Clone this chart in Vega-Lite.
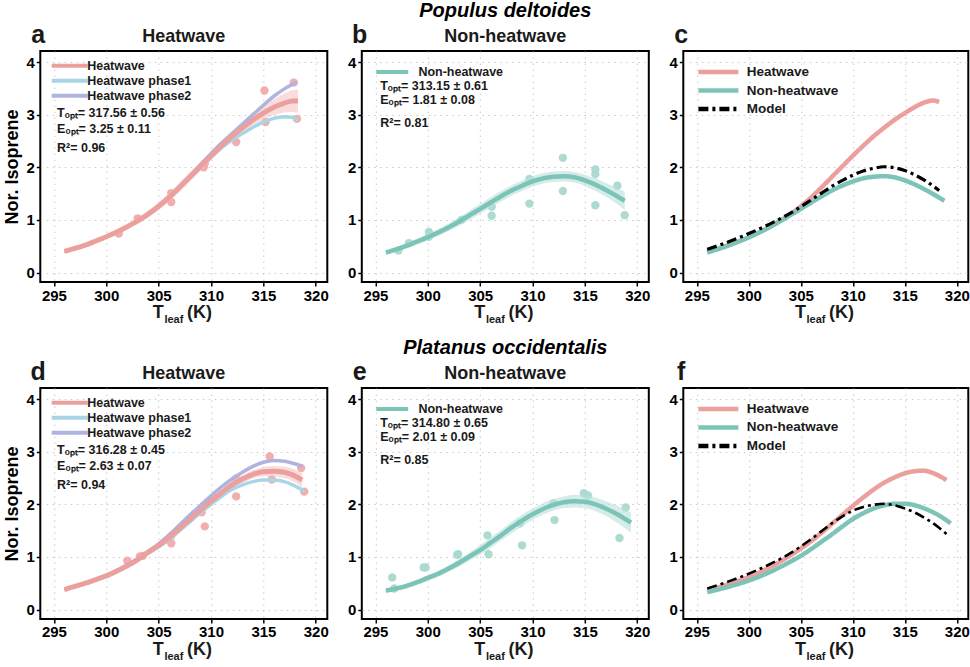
{
  "$schema": "https://vega.github.io/schema/vega-lite/v6.json",
  "padding": {"left": 2.3, "top": -1, "right": 0, "bottom": 0},
  "background": "white",
  "config": {
    "font": "Liberation Sans",
    "view": {"stroke": "#000000", "strokeWidth": 2},
    "axis": {
      "labelFont": "Liberation Sans", "labelFontWeight": "bold", "labelFontSize": 15, "labelColor": "#000000",
      "domain": false, "tickColor": "#000000", "tickSize": 4, "tickWidth": 1.5, "labelPadding": 2,
      "grid": true, "gridColor": "#c9c9c9", "gridDash": [1.5, 4.5], "gridWidth": 1,
      "titleFont": "Liberation Sans", "titleFontWeight": "bold", "titleFontSize": 18, "titleColor": "#000000"
    },
    "axisY": {"titlePadding": 4},
    "text": {"font": "Liberation Sans", "fontWeight": "bold", "color": "#1a1a1a", "baseline": "alphabetic"},
    "legend": {"labelFont": "Liberation Sans", "labelFontWeight": "bold", "labelColor": "#1a1a1a"}
  },
  "datasets": {
    "a_pts": [
      {"T": 301.2, "v": 0.74}, {"T": 303.0, "v": 1.03}, {"T": 306.2, "v": 1.34}, {"T": 306.2, "v": 1.51},
      {"T": 309.3, "v": 2.0}, {"T": 309.4, "v": 2.07}, {"T": 312.4, "v": 2.48}, {"T": 315.1, "v": 3.46},
      {"T": 315.2, "v": 2.86}, {"T": 317.9, "v": 3.61}, {"T": 318.2, "v": 2.92}
    ],
    "a_band": [
      {"T": 296, "lo": 0.37, "hi": 0.43}, {"T": 297, "lo": 0.43, "hi": 0.49}, {"T": 298, "lo": 0.49, "hi": 0.55},
      {"T": 299, "lo": 0.565, "hi": 0.635}, {"T": 300, "lo": 0.64, "hi": 0.72}, {"T": 301, "lo": 0.73, "hi": 0.81},
      {"T": 302, "lo": 0.825, "hi": 0.915}, {"T": 303, "lo": 0.93, "hi": 1.03}, {"T": 304, "lo": 1.05, "hi": 1.17},
      {"T": 305, "lo": 1.19, "hi": 1.33}, {"T": 306, "lo": 1.35, "hi": 1.51}, {"T": 307, "lo": 1.53, "hi": 1.71},
      {"T": 308, "lo": 1.73, "hi": 1.91}, {"T": 309, "lo": 1.93, "hi": 2.11}, {"T": 310, "lo": 2.14, "hi": 2.30},
      {"T": 311, "lo": 2.34, "hi": 2.48}, {"T": 312, "lo": 2.52, "hi": 2.66}, {"T": 313, "lo": 2.67, "hi": 2.83},
      {"T": 314, "lo": 2.80, "hi": 3.00}, {"T": 315, "lo": 2.91, "hi": 3.15}, {"T": 316, "lo": 2.99, "hi": 3.29},
      {"T": 317, "lo": 3.04, "hi": 3.40}, {"T": 317.8, "lo": 3.05, "hi": 3.47}, {"T": 318.3, "lo": 3.04, "hi": 3.48}
    ],
    "a_lines": [
      {"s": "Heatwave phase1", "T": 296, "v": 0.40}, {"s": "Heatwave phase1", "T": 298, "v": 0.52}, {"s": "Heatwave phase1", "T": 300, "v": 0.68},
      {"s": "Heatwave phase1", "T": 302, "v": 0.87}, {"s": "Heatwave phase1", "T": 304, "v": 1.10}, {"s": "Heatwave phase1", "T": 306, "v": 1.42},
      {"s": "Heatwave phase1", "T": 308, "v": 1.80}, {"s": "Heatwave phase1", "T": 310, "v": 2.19}, {"s": "Heatwave phase1", "T": 311, "v": 2.37},
      {"s": "Heatwave phase1", "T": 312, "v": 2.52}, {"s": "Heatwave phase1", "T": 313, "v": 2.64}, {"s": "Heatwave phase1", "T": 314, "v": 2.76},
      {"s": "Heatwave phase1", "T": 315, "v": 2.86}, {"s": "Heatwave phase1", "T": 316, "v": 2.93}, {"s": "Heatwave phase1", "T": 317, "v": 2.96},
      {"s": "Heatwave phase1", "T": 317.7, "v": 2.95}, {"s": "Heatwave phase1", "T": 318.3, "v": 2.90},
      {"s": "Heatwave phase2", "T": 296, "v": 0.40}, {"s": "Heatwave phase2", "T": 298, "v": 0.52}, {"s": "Heatwave phase2", "T": 300, "v": 0.68},
      {"s": "Heatwave phase2", "T": 302, "v": 0.87}, {"s": "Heatwave phase2", "T": 304, "v": 1.11}, {"s": "Heatwave phase2", "T": 306, "v": 1.44},
      {"s": "Heatwave phase2", "T": 308, "v": 1.84}, {"s": "Heatwave phase2", "T": 310, "v": 2.26}, {"s": "Heatwave phase2", "T": 311, "v": 2.46},
      {"s": "Heatwave phase2", "T": 312, "v": 2.64}, {"s": "Heatwave phase2", "T": 313, "v": 2.82}, {"s": "Heatwave phase2", "T": 314, "v": 3.00},
      {"s": "Heatwave phase2", "T": 315, "v": 3.18}, {"s": "Heatwave phase2", "T": 316, "v": 3.35}, {"s": "Heatwave phase2", "T": 317, "v": 3.49},
      {"s": "Heatwave phase2", "T": 317.6, "v": 3.56}, {"s": "Heatwave phase2", "T": 318.2, "v": 3.62},
      {"s": "Heatwave", "T": 296, "v": 0.40}, {"s": "Heatwave", "T": 297, "v": 0.46}, {"s": "Heatwave", "T": 298, "v": 0.52},
      {"s": "Heatwave", "T": 299, "v": 0.60}, {"s": "Heatwave", "T": 300, "v": 0.68}, {"s": "Heatwave", "T": 301, "v": 0.77},
      {"s": "Heatwave", "T": 302, "v": 0.87}, {"s": "Heatwave", "T": 303, "v": 0.98}, {"s": "Heatwave", "T": 304, "v": 1.11},
      {"s": "Heatwave", "T": 305, "v": 1.26}, {"s": "Heatwave", "T": 306, "v": 1.43}, {"s": "Heatwave", "T": 307, "v": 1.62},
      {"s": "Heatwave", "T": 308, "v": 1.82}, {"s": "Heatwave", "T": 309, "v": 2.02}, {"s": "Heatwave", "T": 310, "v": 2.22},
      {"s": "Heatwave", "T": 311, "v": 2.41}, {"s": "Heatwave", "T": 312, "v": 2.59}, {"s": "Heatwave", "T": 313, "v": 2.75},
      {"s": "Heatwave", "T": 314, "v": 2.90}, {"s": "Heatwave", "T": 315, "v": 3.03}, {"s": "Heatwave", "T": 316, "v": 3.14},
      {"s": "Heatwave", "T": 317, "v": 3.22}, {"s": "Heatwave", "T": 317.8, "v": 3.26}, {"s": "Heatwave", "T": 318.3, "v": 3.26}
    ],
    "b_pts": [
      {"T": 297.2, "v": 0.42}, {"T": 298.2, "v": 0.56}, {"T": 300.1, "v": 0.77}, {"T": 300.1, "v": 0.68},
      {"T": 303.2, "v": 1.0}, {"T": 306.1, "v": 1.25}, {"T": 306.1, "v": 1.08}, {"T": 309.7, "v": 1.78},
      {"T": 309.7, "v": 1.31}, {"T": 312.9, "v": 2.18}, {"T": 312.9, "v": 1.55}, {"T": 316.0, "v": 1.96},
      {"T": 316.0, "v": 1.87}, {"T": 316.0, "v": 1.28}, {"T": 318.1, "v": 1.65}, {"T": 318.8, "v": 1.09}
    ],
    "b_band": [
      {"T": 296, "lo": 0.34, "hi": 0.42}, {"T": 297, "lo": 0.395, "hi": 0.485}, {"T": 298, "lo": 0.46, "hi": 0.56},
      {"T": 299, "lo": 0.535, "hi": 0.645}, {"T": 300, "lo": 0.61, "hi": 0.73}, {"T": 301, "lo": 0.695, "hi": 0.825},
      {"T": 302, "lo": 0.79, "hi": 0.93}, {"T": 303, "lo": 0.89, "hi": 1.05}, {"T": 304, "lo": 1.00, "hi": 1.18},
      {"T": 305, "lo": 1.115, "hi": 1.305}, {"T": 306, "lo": 1.23, "hi": 1.43}, {"T": 307, "lo": 1.35, "hi": 1.55},
      {"T": 308, "lo": 1.46, "hi": 1.66}, {"T": 309, "lo": 1.55, "hi": 1.75}, {"T": 310, "lo": 1.63, "hi": 1.83},
      {"T": 311, "lo": 1.69, "hi": 1.89}, {"T": 312, "lo": 1.72, "hi": 1.92}, {"T": 313, "lo": 1.73, "hi": 1.93},
      {"T": 314, "lo": 1.71, "hi": 1.91}, {"T": 315, "lo": 1.64, "hi": 1.86}, {"T": 316, "lo": 1.55, "hi": 1.79},
      {"T": 317, "lo": 1.44, "hi": 1.70}, {"T": 318, "lo": 1.31, "hi": 1.61}, {"T": 318.8, "lo": 1.19, "hi": 1.53}
    ],
    "b_lines": [
      {"s": "Non-heatwave", "T": 296, "v": 0.38}, {"s": "Non-heatwave", "T": 297, "v": 0.44}, {"s": "Non-heatwave", "T": 298, "v": 0.51},
      {"s": "Non-heatwave", "T": 299, "v": 0.59}, {"s": "Non-heatwave", "T": 300, "v": 0.67}, {"s": "Non-heatwave", "T": 301, "v": 0.76},
      {"s": "Non-heatwave", "T": 302, "v": 0.86}, {"s": "Non-heatwave", "T": 303, "v": 0.97}, {"s": "Non-heatwave", "T": 304, "v": 1.09},
      {"s": "Non-heatwave", "T": 305, "v": 1.21}, {"s": "Non-heatwave", "T": 306, "v": 1.33}, {"s": "Non-heatwave", "T": 307, "v": 1.45},
      {"s": "Non-heatwave", "T": 308, "v": 1.56}, {"s": "Non-heatwave", "T": 309, "v": 1.65}, {"s": "Non-heatwave", "T": 310, "v": 1.73},
      {"s": "Non-heatwave", "T": 311, "v": 1.79}, {"s": "Non-heatwave", "T": 312, "v": 1.82}, {"s": "Non-heatwave", "T": 313, "v": 1.83},
      {"s": "Non-heatwave", "T": 314, "v": 1.81}, {"s": "Non-heatwave", "T": 315, "v": 1.75}, {"s": "Non-heatwave", "T": 316, "v": 1.67},
      {"s": "Non-heatwave", "T": 317, "v": 1.57}, {"s": "Non-heatwave", "T": 318, "v": 1.46}, {"s": "Non-heatwave", "T": 318.8, "v": 1.36}
    ],
    "c_lines": [
      {"s": "Heatwave", "T": 296, "v": 0.39}, {"s": "Heatwave", "T": 298, "v": 0.52}, {"s": "Heatwave", "T": 300, "v": 0.67},
      {"s": "Heatwave", "T": 302, "v": 0.87}, {"s": "Heatwave", "T": 304, "v": 1.11}, {"s": "Heatwave", "T": 305, "v": 1.26},
      {"s": "Heatwave", "T": 306, "v": 1.43}, {"s": "Heatwave", "T": 307, "v": 1.62}, {"s": "Heatwave", "T": 308, "v": 1.82},
      {"s": "Heatwave", "T": 309, "v": 2.02}, {"s": "Heatwave", "T": 310, "v": 2.22}, {"s": "Heatwave", "T": 311, "v": 2.41},
      {"s": "Heatwave", "T": 312, "v": 2.59}, {"s": "Heatwave", "T": 313, "v": 2.75}, {"s": "Heatwave", "T": 314, "v": 2.90},
      {"s": "Heatwave", "T": 315, "v": 3.03}, {"s": "Heatwave", "T": 316, "v": 3.15}, {"s": "Heatwave", "T": 317, "v": 3.24},
      {"s": "Heatwave", "T": 317.7, "v": 3.27}, {"s": "Heatwave", "T": 318.3, "v": 3.24},
      {"s": "Non-heatwave", "T": 296, "v": 0.38}, {"s": "Non-heatwave", "T": 298, "v": 0.51}, {"s": "Non-heatwave", "T": 300, "v": 0.67},
      {"s": "Non-heatwave", "T": 302, "v": 0.86}, {"s": "Non-heatwave", "T": 304, "v": 1.09}, {"s": "Non-heatwave", "T": 306, "v": 1.33},
      {"s": "Non-heatwave", "T": 308, "v": 1.56}, {"s": "Non-heatwave", "T": 310, "v": 1.73}, {"s": "Non-heatwave", "T": 311, "v": 1.79},
      {"s": "Non-heatwave", "T": 312, "v": 1.82}, {"s": "Non-heatwave", "T": 313, "v": 1.83}, {"s": "Non-heatwave", "T": 314, "v": 1.81},
      {"s": "Non-heatwave", "T": 315, "v": 1.75}, {"s": "Non-heatwave", "T": 316, "v": 1.67}, {"s": "Non-heatwave", "T": 317, "v": 1.57},
      {"s": "Non-heatwave", "T": 318, "v": 1.46}, {"s": "Non-heatwave", "T": 318.8, "v": 1.36},
      {"s": "Model", "T": 296, "v": 0.44}, {"s": "Model", "T": 298, "v": 0.58}, {"s": "Model", "T": 300, "v": 0.74},
      {"s": "Model", "T": 302, "v": 0.92}, {"s": "Model", "T": 304, "v": 1.13}, {"s": "Model", "T": 305, "v": 1.25},
      {"s": "Model", "T": 306, "v": 1.38}, {"s": "Model", "T": 307, "v": 1.51}, {"s": "Model", "T": 308, "v": 1.64},
      {"s": "Model", "T": 309, "v": 1.75}, {"s": "Model", "T": 310, "v": 1.85}, {"s": "Model", "T": 311, "v": 1.93},
      {"s": "Model", "T": 312, "v": 1.98}, {"s": "Model", "T": 313, "v": 2.01}, {"s": "Model", "T": 314, "v": 1.99},
      {"s": "Model", "T": 315, "v": 1.94}, {"s": "Model", "T": 316, "v": 1.85}, {"s": "Model", "T": 317, "v": 1.74},
      {"s": "Model", "T": 318.3, "v": 1.56}
    ],
    "d_pts": [
      {"T": 302.0, "v": 0.93}, {"T": 303.2, "v": 1.01}, {"T": 303.5, "v": 1.02}, {"T": 306.2, "v": 1.40},
      {"T": 306.2, "v": 1.26}, {"T": 309.4, "v": 1.58}, {"T": 309.1, "v": 1.85}, {"T": 312.4, "v": 2.49},
      {"T": 312.4, "v": 2.15}, {"T": 315.6, "v": 2.91}, {"T": 315.8, "v": 2.47}, {"T": 318.6, "v": 2.69},
      {"T": 318.9, "v": 2.24}
    ],
    "d_band": [
      {"T": 296, "lo": 0.35, "hi": 0.41}, {"T": 297, "lo": 0.41, "hi": 0.47}, {"T": 298, "lo": 0.47, "hi": 0.53},
      {"T": 299, "lo": 0.535, "hi": 0.605}, {"T": 300, "lo": 0.60, "hi": 0.68}, {"T": 301, "lo": 0.69, "hi": 0.77},
      {"T": 302, "lo": 0.785, "hi": 0.875}, {"T": 303, "lo": 0.90, "hi": 1.00}, {"T": 304, "lo": 1.04, "hi": 1.14},
      {"T": 305, "lo": 1.165, "hi": 1.275}, {"T": 306, "lo": 1.31, "hi": 1.43}, {"T": 307, "lo": 1.48, "hi": 1.60},
      {"T": 308, "lo": 1.66, "hi": 1.78}, {"T": 309, "lo": 1.83, "hi": 1.95}, {"T": 310, "lo": 2.00, "hi": 2.12},
      {"T": 311, "lo": 2.16, "hi": 2.28}, {"T": 312, "lo": 2.305, "hi": 2.435}, {"T": 313, "lo": 2.41, "hi": 2.55},
      {"T": 314, "lo": 2.49, "hi": 2.65}, {"T": 315, "lo": 2.53, "hi": 2.71}, {"T": 316, "lo": 2.53, "hi": 2.73},
      {"T": 317, "lo": 2.50, "hi": 2.72}, {"T": 318, "lo": 2.42, "hi": 2.66}, {"T": 318.7, "lo": 2.33, "hi": 2.59}
    ],
    "d_lines": [
      {"s": "Heatwave phase1", "T": 296, "v": 0.38}, {"s": "Heatwave phase1", "T": 298, "v": 0.50}, {"s": "Heatwave phase1", "T": 300, "v": 0.64},
      {"s": "Heatwave phase1", "T": 302, "v": 0.83}, {"s": "Heatwave phase1", "T": 304, "v": 1.07}, {"s": "Heatwave phase1", "T": 306, "v": 1.33},
      {"s": "Heatwave phase1", "T": 307, "v": 1.50}, {"s": "Heatwave phase1", "T": 308, "v": 1.67}, {"s": "Heatwave phase1", "T": 309, "v": 1.84},
      {"s": "Heatwave phase1", "T": 310, "v": 2.00}, {"s": "Heatwave phase1", "T": 311, "v": 2.15}, {"s": "Heatwave phase1", "T": 312, "v": 2.28},
      {"s": "Heatwave phase1", "T": 313, "v": 2.37}, {"s": "Heatwave phase1", "T": 314, "v": 2.43}, {"s": "Heatwave phase1", "T": 315, "v": 2.46},
      {"s": "Heatwave phase1", "T": 316, "v": 2.46}, {"s": "Heatwave phase1", "T": 317, "v": 2.43}, {"s": "Heatwave phase1", "T": 318, "v": 2.35},
      {"s": "Heatwave phase1", "T": 318.9, "v": 2.25},
      {"s": "Heatwave phase2", "T": 296, "v": 0.38}, {"s": "Heatwave phase2", "T": 298, "v": 0.50}, {"s": "Heatwave phase2", "T": 300, "v": 0.65},
      {"s": "Heatwave phase2", "T": 302, "v": 0.85}, {"s": "Heatwave phase2", "T": 304, "v": 1.10}, {"s": "Heatwave phase2", "T": 305, "v": 1.25},
      {"s": "Heatwave phase2", "T": 306, "v": 1.42}, {"s": "Heatwave phase2", "T": 307, "v": 1.61}, {"s": "Heatwave phase2", "T": 308, "v": 1.80},
      {"s": "Heatwave phase2", "T": 309, "v": 1.98}, {"s": "Heatwave phase2", "T": 310, "v": 2.16}, {"s": "Heatwave phase2", "T": 311, "v": 2.33},
      {"s": "Heatwave phase2", "T": 312, "v": 2.48}, {"s": "Heatwave phase2", "T": 313, "v": 2.61}, {"s": "Heatwave phase2", "T": 314, "v": 2.72},
      {"s": "Heatwave phase2", "T": 315, "v": 2.80}, {"s": "Heatwave phase2", "T": 316, "v": 2.83}, {"s": "Heatwave phase2", "T": 317, "v": 2.82},
      {"s": "Heatwave phase2", "T": 318, "v": 2.77}, {"s": "Heatwave phase2", "T": 318.7, "v": 2.72},
      {"s": "Heatwave", "T": 296, "v": 0.38}, {"s": "Heatwave", "T": 297, "v": 0.44}, {"s": "Heatwave", "T": 298, "v": 0.50},
      {"s": "Heatwave", "T": 299, "v": 0.57}, {"s": "Heatwave", "T": 300, "v": 0.64}, {"s": "Heatwave", "T": 301, "v": 0.73},
      {"s": "Heatwave", "T": 302, "v": 0.83}, {"s": "Heatwave", "T": 303, "v": 0.95}, {"s": "Heatwave", "T": 304, "v": 1.09},
      {"s": "Heatwave", "T": 305, "v": 1.22}, {"s": "Heatwave", "T": 306, "v": 1.37}, {"s": "Heatwave", "T": 307, "v": 1.54},
      {"s": "Heatwave", "T": 308, "v": 1.72}, {"s": "Heatwave", "T": 309, "v": 1.89}, {"s": "Heatwave", "T": 310, "v": 2.06},
      {"s": "Heatwave", "T": 311, "v": 2.22}, {"s": "Heatwave", "T": 312, "v": 2.37}, {"s": "Heatwave", "T": 313, "v": 2.48},
      {"s": "Heatwave", "T": 314, "v": 2.57}, {"s": "Heatwave", "T": 315, "v": 2.62}, {"s": "Heatwave", "T": 316, "v": 2.63},
      {"s": "Heatwave", "T": 317, "v": 2.61}, {"s": "Heatwave", "T": 318, "v": 2.54}, {"s": "Heatwave", "T": 318.7, "v": 2.46}
    ],
    "e_pts": [
      {"T": 296.6, "v": 0.61}, {"T": 296.8, "v": 0.40}, {"T": 299.6, "v": 0.80}, {"T": 299.8, "v": 0.80},
      {"T": 302.8, "v": 1.04}, {"T": 302.9, "v": 1.05}, {"T": 305.7, "v": 1.41}, {"T": 305.8, "v": 1.05},
      {"T": 308.8, "v": 1.64}, {"T": 309.0, "v": 1.22}, {"T": 312.0, "v": 2.02}, {"T": 312.1, "v": 1.70},
      {"T": 314.9, "v": 2.21}, {"T": 315.3, "v": 2.17}, {"T": 318.3, "v": 1.36}, {"T": 318.9, "v": 1.94}
    ],
    "e_band": [
      {"T": 296, "lo": 0.32, "hi": 0.40}, {"T": 297, "lo": 0.36, "hi": 0.44}, {"T": 298, "lo": 0.405, "hi": 0.495},
      {"T": 299, "lo": 0.47, "hi": 0.57}, {"T": 300, "lo": 0.55, "hi": 0.65}, {"T": 301, "lo": 0.625, "hi": 0.735},
      {"T": 302, "lo": 0.72, "hi": 0.84}, {"T": 303, "lo": 0.82, "hi": 0.96}, {"T": 304, "lo": 0.93, "hi": 1.09},
      {"T": 305, "lo": 1.04, "hi": 1.22}, {"T": 306, "lo": 1.17, "hi": 1.37}, {"T": 307, "lo": 1.31, "hi": 1.51},
      {"T": 308, "lo": 1.45, "hi": 1.67}, {"T": 309, "lo": 1.58, "hi": 1.80}, {"T": 310, "lo": 1.70, "hi": 1.92},
      {"T": 311, "lo": 1.80, "hi": 2.02}, {"T": 312, "lo": 1.88, "hi": 2.10}, {"T": 313, "lo": 1.93, "hi": 2.15},
      {"T": 314, "lo": 1.94, "hi": 2.18}, {"T": 315, "lo": 1.93, "hi": 2.17}, {"T": 316, "lo": 1.87, "hi": 2.13},
      {"T": 317, "lo": 1.78, "hi": 2.06}, {"T": 318, "lo": 1.66, "hi": 1.98}, {"T": 319.4, "lo": 1.46, "hi": 1.84}
    ],
    "e_lines": [
      {"s": "Non-heatwave", "T": 296, "v": 0.36}, {"s": "Non-heatwave", "T": 297, "v": 0.40}, {"s": "Non-heatwave", "T": 298, "v": 0.45},
      {"s": "Non-heatwave", "T": 299, "v": 0.52}, {"s": "Non-heatwave", "T": 300, "v": 0.60}, {"s": "Non-heatwave", "T": 301, "v": 0.68},
      {"s": "Non-heatwave", "T": 302, "v": 0.78}, {"s": "Non-heatwave", "T": 303, "v": 0.89}, {"s": "Non-heatwave", "T": 304, "v": 1.01},
      {"s": "Non-heatwave", "T": 305, "v": 1.13}, {"s": "Non-heatwave", "T": 306, "v": 1.27}, {"s": "Non-heatwave", "T": 307, "v": 1.41},
      {"s": "Non-heatwave", "T": 308, "v": 1.56}, {"s": "Non-heatwave", "T": 309, "v": 1.69}, {"s": "Non-heatwave", "T": 310, "v": 1.81},
      {"s": "Non-heatwave", "T": 311, "v": 1.91}, {"s": "Non-heatwave", "T": 312, "v": 1.99}, {"s": "Non-heatwave", "T": 313, "v": 2.04},
      {"s": "Non-heatwave", "T": 314, "v": 2.06}, {"s": "Non-heatwave", "T": 315, "v": 2.05}, {"s": "Non-heatwave", "T": 316, "v": 2.00},
      {"s": "Non-heatwave", "T": 317, "v": 1.92}, {"s": "Non-heatwave", "T": 318, "v": 1.82}, {"s": "Non-heatwave", "T": 319.4, "v": 1.65}
    ],
    "f_lines": [
      {"s": "Heatwave", "T": 296, "v": 0.36}, {"s": "Heatwave", "T": 298, "v": 0.48}, {"s": "Heatwave", "T": 300, "v": 0.62},
      {"s": "Heatwave", "T": 302, "v": 0.80}, {"s": "Heatwave", "T": 304, "v": 1.03}, {"s": "Heatwave", "T": 305, "v": 1.16},
      {"s": "Heatwave", "T": 306, "v": 1.30}, {"s": "Heatwave", "T": 307, "v": 1.46}, {"s": "Heatwave", "T": 308, "v": 1.63},
      {"s": "Heatwave", "T": 309, "v": 1.80}, {"s": "Heatwave", "T": 310, "v": 1.97}, {"s": "Heatwave", "T": 311, "v": 2.13},
      {"s": "Heatwave", "T": 312, "v": 2.28}, {"s": "Heatwave", "T": 313, "v": 2.41}, {"s": "Heatwave", "T": 314, "v": 2.51},
      {"s": "Heatwave", "T": 315, "v": 2.59}, {"s": "Heatwave", "T": 316, "v": 2.63}, {"s": "Heatwave", "T": 316.7, "v": 2.64},
      {"s": "Heatwave", "T": 317.5, "v": 2.61}, {"s": "Heatwave", "T": 318.3, "v": 2.54}, {"s": "Heatwave", "T": 319, "v": 2.46},
      {"s": "Non-heatwave", "T": 296, "v": 0.33}, {"s": "Non-heatwave", "T": 298, "v": 0.43}, {"s": "Non-heatwave", "T": 300, "v": 0.55},
      {"s": "Non-heatwave", "T": 302, "v": 0.71}, {"s": "Non-heatwave", "T": 304, "v": 0.91}, {"s": "Non-heatwave", "T": 305, "v": 1.02},
      {"s": "Non-heatwave", "T": 306, "v": 1.15}, {"s": "Non-heatwave", "T": 307, "v": 1.29}, {"s": "Non-heatwave", "T": 308, "v": 1.43},
      {"s": "Non-heatwave", "T": 309, "v": 1.58}, {"s": "Non-heatwave", "T": 310, "v": 1.72}, {"s": "Non-heatwave", "T": 311, "v": 1.83},
      {"s": "Non-heatwave", "T": 312, "v": 1.92}, {"s": "Non-heatwave", "T": 313, "v": 1.98}, {"s": "Non-heatwave", "T": 314, "v": 2.01},
      {"s": "Non-heatwave", "T": 315, "v": 2.01}, {"s": "Non-heatwave", "T": 316, "v": 1.98}, {"s": "Non-heatwave", "T": 317, "v": 1.91},
      {"s": "Non-heatwave", "T": 318, "v": 1.82}, {"s": "Non-heatwave", "T": 319.4, "v": 1.64},
      {"s": "Model", "T": 296, "v": 0.40}, {"s": "Model", "T": 298, "v": 0.53}, {"s": "Model", "T": 300, "v": 0.68},
      {"s": "Model", "T": 302, "v": 0.86}, {"s": "Model", "T": 304, "v": 1.07}, {"s": "Model", "T": 305, "v": 1.20},
      {"s": "Model", "T": 306, "v": 1.34}, {"s": "Model", "T": 307, "v": 1.49}, {"s": "Model", "T": 308, "v": 1.64},
      {"s": "Model", "T": 309, "v": 1.77}, {"s": "Model", "T": 310, "v": 1.88}, {"s": "Model", "T": 311, "v": 1.95},
      {"s": "Model", "T": 312, "v": 1.99}, {"s": "Model", "T": 313, "v": 2.01}, {"s": "Model", "T": 314, "v": 1.98},
      {"s": "Model", "T": 315, "v": 1.92}, {"s": "Model", "T": 316, "v": 1.84}, {"s": "Model", "T": 317, "v": 1.73},
      {"s": "Model", "T": 318, "v": 1.60}, {"s": "Model", "T": 319.2, "v": 1.40}
    ]
  },
  "spacing": 9,
  "resolve": {"scale": {"color": "independent", "strokeDash": "independent"}},
  "vconcat": [
    {
      "spacing": 16.5,
      "resolve": {"scale": {"color": "independent", "strokeDash": "independent"}},
      "hconcat": [
        {
          "width": 287, "height": 231,
          "layer": [
            {"data": {"name": "a_pts"}, "mark": {"type": "circle", "size": 70, "opacity": 0.95, "color": "#F0AAA8"},
             "encoding": {
               "x": {"field": "T", "type": "quantitative", "title": null, "scale": {"domain": [293.7, 321.1], "nice": false, "zero": false}, "axis": {"values": [295, 300, 305, 310, 315, 320]}},
               "y": {"field": "v", "type": "quantitative", "title": "Nor. Isoprene", "scale": {"domain": [-0.18, 4.21], "nice": false, "zero": false}, "axis": {"values": [0, 1, 2, 3, 4]}}}},
            {"data": {"name": "a_band"}, "mark": {"type": "area", "color": "#F5C6C5", "opacity": 0.6, "interpolate": "monotone"},
             "encoding": {"x": {"field": "T", "type": "quantitative", "title": null}, "y": {"field": "lo", "type": "quantitative", "title": "Nor. Isoprene"}, "y2": {"field": "hi"}}},
            {"data": {"name": "a_lines"}, "transform": [{"filter": "datum.s !== 'Heatwave'"}], "mark": {"type": "line", "strokeWidth": 3.5, "interpolate": "monotone"},
             "encoding": {"x": {"field": "T", "type": "quantitative", "title": null}, "y": {"field": "v", "type": "quantitative", "title": "Nor. Isoprene"},
               "color": {"field": "s", "type": "nominal", "scale": {"domain": ["Heatwave", "Heatwave phase1", "Heatwave phase2"], "range": ["#EBA09E", "#A9D6E6", "#AEB3DF"]},
                 "legend": {"title": null, "orient": "none", "legendX": 0, "legendY": 8.2, "padding": 0, "symbolType": "M-4,0H4", "symbolSize": 81, "symbolStrokeWidth": 4, "symbolOffset": 22.9, "labelOffset": 11, "labelFontSize": 12.5, "rowPadding": -5}}}},
            {"data": {"name": "a_lines"}, "transform": [{"filter": "datum.s === 'Heatwave'"}], "mark": {"type": "line", "strokeWidth": 5, "interpolate": "monotone"},
             "encoding": {"x": {"field": "T", "type": "quantitative", "title": null}, "y": {"field": "v", "type": "quantitative", "title": "Nor. Isoprene"}, "color": {"field": "s", "type": "nominal"}}},
            {"data": {"values": [{"t": "a"}]}, "mark": {"type": "text", "fontSize": 25, "align": "center"}, "encoding": {"text": {"field": "t"}, "x": {"datum": 293.5}, "y": {"datum": 4.36}}},
            {"data": {"values": [{"t": "Heatwave"}]}, "mark": {"type": "text", "fontSize": 18, "align": "center"}, "encoding": {"text": {"field": "t"}, "x": {"datum": 307.4}, "y": {"datum": 4.39}}},
            {"data": {"values": [{"t": "Tₒₚₜ= 317.56 ± 0.56"}]}, "mark": {"type": "text", "fontSize": 12.5, "align": "left"}, "encoding": {"text": {"field": "t"}, "x": {"datum": 295.3}, "y": {"datum": 2.955}}},
            {"data": {"values": [{"t": "Eₒₚₜ= 3.25 ± 0.11"}]}, "mark": {"type": "text", "fontSize": 12.5, "align": "left"}, "encoding": {"text": {"field": "t"}, "x": {"datum": 295.3}, "y": {"datum": 2.65}}},
            {"data": {"values": [{"t": "R²= 0.96"}]}, "mark": {"type": "text", "fontSize": 12.5, "align": "left"}, "encoding": {"text": {"field": "t"}, "x": {"datum": 295.3}, "y": {"datum": 2.29}}},
            {"data": {"values": [{"t": "T"}]}, "mark": {"type": "text", "fontSize": 18, "align": "right"}, "encoding": {"text": {"field": "t"}, "x": {"datum": 305.49}, "y": {"datum": -0.865}}},
            {"data": {"values": [{"t": "leaf"}]}, "mark": {"type": "text", "fontSize": 11, "align": "left"}, "encoding": {"text": {"field": "t"}, "x": {"datum": 305.55}, "y": {"datum": -0.96}}},
            {"data": {"values": [{"t": "(K)"}]}, "mark": {"type": "text", "fontSize": 18, "align": "left"}, "encoding": {"text": {"field": "t"}, "x": {"datum": 307.71}, "y": {"datum": -0.865}}}
          ]
        },
        {
          "width": 287, "height": 231,
          "layer": [
            {"data": {"name": "b_pts"}, "mark": {"type": "circle", "size": 70, "opacity": 0.95, "color": "#A9D9CF"},
             "encoding": {
               "x": {"field": "T", "type": "quantitative", "title": null, "scale": {"domain": [293.7, 321.1], "nice": false, "zero": false}, "axis": {"values": [295, 300, 305, 310, 315, 320]}},
               "y": {"field": "v", "type": "quantitative", "title": null, "scale": {"domain": [-0.18, 4.21], "nice": false, "zero": false}, "axis": {"values": [0, 1, 2, 3, 4]}}}},
            {"data": {"name": "b_band"}, "mark": {"type": "area", "color": "#B9E0D8", "opacity": 0.6, "interpolate": "monotone"},
             "encoding": {"x": {"field": "T", "type": "quantitative", "title": null}, "y": {"field": "lo", "type": "quantitative", "title": null}, "y2": {"field": "hi"}}},
            {"data": {"name": "b_lines"}, "mark": {"type": "line", "strokeWidth": 4.5, "interpolate": "monotone"},
             "encoding": {"x": {"field": "T", "type": "quantitative", "title": null}, "y": {"field": "v", "type": "quantitative", "title": null},
               "color": {"field": "s", "type": "nominal", "scale": {"domain": ["Non-heatwave"], "range": ["#7CC4B7"]},
                 "legend": {"title": null, "orient": "none", "legendX": 0, "legendY": 14.75, "padding": 0, "symbolType": "M-4,0H4", "symbolSize": 64, "symbolStrokeWidth": 4, "symbolOffset": 24.2, "labelOffset": 19.9, "labelFontSize": 12.5}}}},
            {"data": {"values": [{"t": "b"}]}, "mark": {"type": "text", "fontSize": 25, "align": "center"}, "encoding": {"text": {"field": "t"}, "x": {"datum": 293.5}, "y": {"datum": 4.36}}},
            {"data": {"values": [{"t": "Non-heatwave"}]}, "mark": {"type": "text", "fontSize": 18, "align": "center"}, "encoding": {"text": {"field": "t"}, "x": {"datum": 307.4}, "y": {"datum": 4.39}}},
            {"data": {"values": [{"t": "Populus deltoides"}]}, "mark": {"type": "text", "fontSize": 20, "fontStyle": "italic", "align": "center", "color": "#000000"}, "encoding": {"text": {"field": "t"}, "x": {"datum": 307.4}, "y": {"datum": 4.86}}},
            {"data": {"values": [{"t": "Tₒₚₜ= 313.15 ± 0.61"}]}, "mark": {"type": "text", "fontSize": 12.5, "align": "left"}, "encoding": {"text": {"field": "t"}, "x": {"datum": 295.46}, "y": {"datum": 3.469}}},
            {"data": {"values": [{"t": "Eₒₚₜ= 1.81 ± 0.08"}]}, "mark": {"type": "text", "fontSize": 12.5, "align": "left"}, "encoding": {"text": {"field": "t"}, "x": {"datum": 295.46}, "y": {"datum": 3.2}}},
            {"data": {"values": [{"t": "R²= 0.81"}]}, "mark": {"type": "text", "fontSize": 12.5, "align": "left"}, "encoding": {"text": {"field": "t"}, "x": {"datum": 295.46}, "y": {"datum": 2.765}}},
            {"data": {"values": [{"t": "T"}]}, "mark": {"type": "text", "fontSize": 18, "align": "right"}, "encoding": {"text": {"field": "t"}, "x": {"datum": 305.49}, "y": {"datum": -0.865}}},
            {"data": {"values": [{"t": "leaf"}]}, "mark": {"type": "text", "fontSize": 11, "align": "left"}, "encoding": {"text": {"field": "t"}, "x": {"datum": 305.55}, "y": {"datum": -0.96}}},
            {"data": {"values": [{"t": "(K)"}]}, "mark": {"type": "text", "fontSize": 18, "align": "left"}, "encoding": {"text": {"field": "t"}, "x": {"datum": 307.71}, "y": {"datum": -0.865}}}
          ]
        },
        {
          "width": 285, "height": 231,
          "layer": [
            {"data": {"name": "c_lines"}, "transform": [{"filter": "datum.s !== 'Model'"}], "mark": {"type": "line", "strokeWidth": 4.5, "interpolate": "monotone"},
             "encoding": {
               "x": {"field": "T", "type": "quantitative", "title": null, "scale": {"domain": [293.7, 321.1], "nice": false, "zero": false}, "axis": {"values": [295, 300, 305, 310, 315, 320]}},
               "y": {"field": "v", "type": "quantitative", "title": null, "scale": {"domain": [-0.18, 4.21], "nice": false, "zero": false}, "axis": {"values": [0, 1, 2, 3, 4]}},
               "color": {"field": "s", "type": "nominal", "scale": {"domain": ["Heatwave", "Non-heatwave", "Model"], "range": ["#EBA09E", "#7CC4B7", "#000000"]},
                 "legend": {"title": null, "orient": "none", "legendX": 0, "legendY": 13.5, "padding": 0, "symbolType": "M-4,0H4", "symbolSize": 100, "symbolStrokeWidth": 4.5, "symbolOffset": 27.6, "labelOffset": 20.9, "labelFontSize": 13.5, "rowPadding": -0.5}},
               "strokeDash": {"field": "s", "type": "nominal", "scale": {"domain": ["Heatwave", "Non-heatwave", "Model"], "range": [[1, 0], [1, 0], [10, 4, 3, 4]]},
                 "legend": {"title": null, "orient": "none", "legendX": 0, "legendY": 13.5, "padding": 0, "symbolType": "M-4,0H4", "symbolSize": 100, "symbolStrokeWidth": 4.5, "symbolOffset": 27.6, "labelOffset": 20.9, "labelFontSize": 13.5, "rowPadding": -0.5}}}},
            {"data": {"name": "c_lines"}, "transform": [{"filter": "datum.s === 'Model'"}], "mark": {"type": "line", "strokeWidth": 3.2, "interpolate": "monotone"},
             "encoding": {"x": {"field": "T", "type": "quantitative", "title": null}, "y": {"field": "v", "type": "quantitative", "title": null},
               "color": {"field": "s", "type": "nominal"}, "strokeDash": {"field": "s", "type": "nominal"}}},
            {"data": {"values": [{"t": "c"}]}, "mark": {"type": "text", "fontSize": 25, "align": "center"}, "encoding": {"text": {"field": "t"}, "x": {"datum": 293.5}, "y": {"datum": 4.36}}},
            {"data": {"values": [{"t": "T"}]}, "mark": {"type": "text", "fontSize": 18, "align": "right"}, "encoding": {"text": {"field": "t"}, "x": {"datum": 305.49}, "y": {"datum": -0.865}}},
            {"data": {"values": [{"t": "leaf"}]}, "mark": {"type": "text", "fontSize": 11, "align": "left"}, "encoding": {"text": {"field": "t"}, "x": {"datum": 305.55}, "y": {"datum": -0.96}}},
            {"data": {"values": [{"t": "(K)"}]}, "mark": {"type": "text", "fontSize": 18, "align": "left"}, "encoding": {"text": {"field": "t"}, "x": {"datum": 307.71}, "y": {"datum": -0.865}}}
          ]
        }
      ]
    },
    {
      "spacing": 16.5,
      "resolve": {"scale": {"color": "independent", "strokeDash": "independent"}},
      "hconcat": [
        {
          "width": 287, "height": 231,
          "layer": [
            {"data": {"name": "d_pts"}, "mark": {"type": "circle", "size": 70, "opacity": 0.95, "color": "#F0AAA8"},
             "encoding": {
               "x": {"field": "T", "type": "quantitative", "title": null, "scale": {"domain": [293.7, 321.1], "nice": false, "zero": false}, "axis": {"values": [295, 300, 305, 310, 315, 320]}},
               "y": {"field": "v", "type": "quantitative", "title": "Nor. Isoprene", "scale": {"domain": [-0.18, 4.21], "nice": false, "zero": false}, "axis": {"values": [0, 1, 2, 3, 4]}}}},
            {"data": {"name": "d_band"}, "mark": {"type": "area", "color": "#F5C6C5", "opacity": 0.6, "interpolate": "monotone"},
             "encoding": {"x": {"field": "T", "type": "quantitative", "title": null}, "y": {"field": "lo", "type": "quantitative", "title": "Nor. Isoprene"}, "y2": {"field": "hi"}}},
            {"data": {"name": "d_lines"}, "transform": [{"filter": "datum.s !== 'Heatwave'"}], "mark": {"type": "line", "strokeWidth": 3.5, "interpolate": "monotone"},
             "encoding": {"x": {"field": "T", "type": "quantitative", "title": null}, "y": {"field": "v", "type": "quantitative", "title": "Nor. Isoprene"},
               "color": {"field": "s", "type": "nominal", "scale": {"domain": ["Heatwave", "Heatwave phase1", "Heatwave phase2"], "range": ["#EBA09E", "#A9D6E6", "#AEB3DF"]},
                 "legend": {"title": null, "orient": "none", "legendX": 0, "legendY": 8.2, "padding": 0, "symbolType": "M-4,0H4", "symbolSize": 81, "symbolStrokeWidth": 4, "symbolOffset": 22.9, "labelOffset": 11, "labelFontSize": 12.5, "rowPadding": -5}}}},
            {"data": {"name": "d_lines"}, "transform": [{"filter": "datum.s === 'Heatwave'"}], "mark": {"type": "line", "strokeWidth": 5, "interpolate": "monotone"},
             "encoding": {"x": {"field": "T", "type": "quantitative", "title": null}, "y": {"field": "v", "type": "quantitative", "title": "Nor. Isoprene"}, "color": {"field": "s", "type": "nominal"}}},
            {"data": {"values": [{"t": "d"}]}, "mark": {"type": "text", "fontSize": 25, "align": "center"}, "encoding": {"text": {"field": "t"}, "x": {"datum": 293.5}, "y": {"datum": 4.36}}},
            {"data": {"values": [{"t": "Heatwave"}]}, "mark": {"type": "text", "fontSize": 18, "align": "center"}, "encoding": {"text": {"field": "t"}, "x": {"datum": 307.4}, "y": {"datum": 4.39}}},
            {"data": {"values": [{"t": "Tₒₚₜ= 316.28 ± 0.45"}]}, "mark": {"type": "text", "fontSize": 12.5, "align": "left"}, "encoding": {"text": {"field": "t"}, "x": {"datum": 295.3}, "y": {"datum": 2.955}}},
            {"data": {"values": [{"t": "Eₒₚₜ= 2.63 ± 0.07"}]}, "mark": {"type": "text", "fontSize": 12.5, "align": "left"}, "encoding": {"text": {"field": "t"}, "x": {"datum": 295.3}, "y": {"datum": 2.65}}},
            {"data": {"values": [{"t": "R²= 0.94"}]}, "mark": {"type": "text", "fontSize": 12.5, "align": "left"}, "encoding": {"text": {"field": "t"}, "x": {"datum": 295.3}, "y": {"datum": 2.29}}},
            {"data": {"values": [{"t": "T"}]}, "mark": {"type": "text", "fontSize": 18, "align": "right"}, "encoding": {"text": {"field": "t"}, "x": {"datum": 305.49}, "y": {"datum": -0.865}}},
            {"data": {"values": [{"t": "leaf"}]}, "mark": {"type": "text", "fontSize": 11, "align": "left"}, "encoding": {"text": {"field": "t"}, "x": {"datum": 305.55}, "y": {"datum": -0.96}}},
            {"data": {"values": [{"t": "(K)"}]}, "mark": {"type": "text", "fontSize": 18, "align": "left"}, "encoding": {"text": {"field": "t"}, "x": {"datum": 307.71}, "y": {"datum": -0.865}}}
          ]
        },
        {
          "width": 287, "height": 231,
          "layer": [
            {"data": {"name": "e_pts"}, "mark": {"type": "circle", "size": 70, "opacity": 0.95, "color": "#A9D9CF"},
             "encoding": {
               "x": {"field": "T", "type": "quantitative", "title": null, "scale": {"domain": [293.7, 321.1], "nice": false, "zero": false}, "axis": {"values": [295, 300, 305, 310, 315, 320]}},
               "y": {"field": "v", "type": "quantitative", "title": null, "scale": {"domain": [-0.18, 4.21], "nice": false, "zero": false}, "axis": {"values": [0, 1, 2, 3, 4]}}}},
            {"data": {"name": "e_band"}, "mark": {"type": "area", "color": "#B9E0D8", "opacity": 0.6, "interpolate": "monotone"},
             "encoding": {"x": {"field": "T", "type": "quantitative", "title": null}, "y": {"field": "lo", "type": "quantitative", "title": null}, "y2": {"field": "hi"}}},
            {"data": {"name": "e_lines"}, "mark": {"type": "line", "strokeWidth": 4.5, "interpolate": "monotone"},
             "encoding": {"x": {"field": "T", "type": "quantitative", "title": null}, "y": {"field": "v", "type": "quantitative", "title": null},
               "color": {"field": "s", "type": "nominal", "scale": {"domain": ["Non-heatwave"], "range": ["#7CC4B7"]},
                 "legend": {"title": null, "orient": "none", "legendX": 0, "legendY": 14.75, "padding": 0, "symbolType": "M-4,0H4", "symbolSize": 64, "symbolStrokeWidth": 4, "symbolOffset": 24.2, "labelOffset": 19.9, "labelFontSize": 12.5}}}},
            {"data": {"values": [{"t": "e"}]}, "mark": {"type": "text", "fontSize": 25, "align": "center"}, "encoding": {"text": {"field": "t"}, "x": {"datum": 293.5}, "y": {"datum": 4.36}}},
            {"data": {"values": [{"t": "Non-heatwave"}]}, "mark": {"type": "text", "fontSize": 18, "align": "center"}, "encoding": {"text": {"field": "t"}, "x": {"datum": 307.4}, "y": {"datum": 4.39}}},
            {"data": {"values": [{"t": "Platanus occidentalis"}]}, "mark": {"type": "text", "fontSize": 20, "fontStyle": "italic", "align": "center", "color": "#000000"}, "encoding": {"text": {"field": "t"}, "x": {"datum": 307.4}, "y": {"datum": 4.86}}},
            {"data": {"values": [{"t": "Tₒₚₜ= 314.80 ± 0.65"}]}, "mark": {"type": "text", "fontSize": 12.5, "align": "left"}, "encoding": {"text": {"field": "t"}, "x": {"datum": 295.46}, "y": {"datum": 3.469}}},
            {"data": {"values": [{"t": "Eₒₚₜ= 2.01 ± 0.09"}]}, "mark": {"type": "text", "fontSize": 12.5, "align": "left"}, "encoding": {"text": {"field": "t"}, "x": {"datum": 295.46}, "y": {"datum": 3.2}}},
            {"data": {"values": [{"t": "R²= 0.85"}]}, "mark": {"type": "text", "fontSize": 12.5, "align": "left"}, "encoding": {"text": {"field": "t"}, "x": {"datum": 295.46}, "y": {"datum": 2.765}}},
            {"data": {"values": [{"t": "T"}]}, "mark": {"type": "text", "fontSize": 18, "align": "right"}, "encoding": {"text": {"field": "t"}, "x": {"datum": 305.49}, "y": {"datum": -0.865}}},
            {"data": {"values": [{"t": "leaf"}]}, "mark": {"type": "text", "fontSize": 11, "align": "left"}, "encoding": {"text": {"field": "t"}, "x": {"datum": 305.55}, "y": {"datum": -0.96}}},
            {"data": {"values": [{"t": "(K)"}]}, "mark": {"type": "text", "fontSize": 18, "align": "left"}, "encoding": {"text": {"field": "t"}, "x": {"datum": 307.71}, "y": {"datum": -0.865}}}
          ]
        },
        {
          "width": 285, "height": 231,
          "layer": [
            {"data": {"name": "f_lines"}, "transform": [{"filter": "datum.s !== 'Model'"}], "mark": {"type": "line", "strokeWidth": 4.5, "interpolate": "monotone"},
             "encoding": {
               "x": {"field": "T", "type": "quantitative", "title": null, "scale": {"domain": [293.7, 321.1], "nice": false, "zero": false}, "axis": {"values": [295, 300, 305, 310, 315, 320]}},
               "y": {"field": "v", "type": "quantitative", "title": null, "scale": {"domain": [-0.18, 4.21], "nice": false, "zero": false}, "axis": {"values": [0, 1, 2, 3, 4]}},
               "color": {"field": "s", "type": "nominal", "scale": {"domain": ["Heatwave", "Non-heatwave", "Model"], "range": ["#EBA09E", "#7CC4B7", "#000000"]},
                 "legend": {"title": null, "orient": "none", "legendX": 0, "legendY": 13.5, "padding": 0, "symbolType": "M-4,0H4", "symbolSize": 100, "symbolStrokeWidth": 4.5, "symbolOffset": 27.6, "labelOffset": 20.9, "labelFontSize": 13.5, "rowPadding": -0.5}},
               "strokeDash": {"field": "s", "type": "nominal", "scale": {"domain": ["Heatwave", "Non-heatwave", "Model"], "range": [[1, 0], [1, 0], [10, 4, 3, 4]]},
                 "legend": {"title": null, "orient": "none", "legendX": 0, "legendY": 13.5, "padding": 0, "symbolType": "M-4,0H4", "symbolSize": 100, "symbolStrokeWidth": 4.5, "symbolOffset": 27.6, "labelOffset": 20.9, "labelFontSize": 13.5, "rowPadding": -0.5}}}},
            {"data": {"name": "f_lines"}, "transform": [{"filter": "datum.s === 'Model'"}], "mark": {"type": "line", "strokeWidth": 2.6, "interpolate": "monotone"},
             "encoding": {"x": {"field": "T", "type": "quantitative", "title": null}, "y": {"field": "v", "type": "quantitative", "title": null},
               "color": {"field": "s", "type": "nominal"}, "strokeDash": {"field": "s", "type": "nominal"}}},
            {"data": {"values": [{"t": "f"}]}, "mark": {"type": "text", "fontSize": 25, "align": "center"}, "encoding": {"text": {"field": "t"}, "x": {"datum": 293.5}, "y": {"datum": 4.36}}},
            {"data": {"values": [{"t": "T"}]}, "mark": {"type": "text", "fontSize": 18, "align": "right"}, "encoding": {"text": {"field": "t"}, "x": {"datum": 305.49}, "y": {"datum": -0.865}}},
            {"data": {"values": [{"t": "leaf"}]}, "mark": {"type": "text", "fontSize": 11, "align": "left"}, "encoding": {"text": {"field": "t"}, "x": {"datum": 305.55}, "y": {"datum": -0.96}}},
            {"data": {"values": [{"t": "(K)"}]}, "mark": {"type": "text", "fontSize": 18, "align": "left"}, "encoding": {"text": {"field": "t"}, "x": {"datum": 307.71}, "y": {"datum": -0.865}}}
          ]
        }
      ]
    }
  ]
}
